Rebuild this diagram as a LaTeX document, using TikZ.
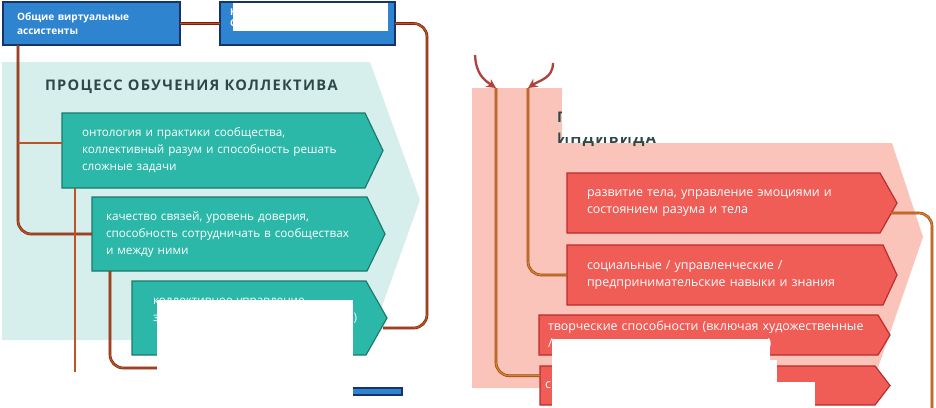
\documentclass[tikz,border=0pt]{standalone}
\usepackage{fontspec}
\setmainfont{Open Sans}
\usetikzlibrary{arrows.meta,backgrounds,calc}

\definecolor{paleteal}{RGB}{214,239,236}
\definecolor{tealfill}{RGB}{44,184,168}
\definecolor{tealedge}{RGB}{26,122,110}
\definecolor{titlec}{RGB}{44,72,72}
\definecolor{bluefill}{RGB}{46,132,206}
\definecolor{blueedge}{RGB}{24,50,110}
\definecolor{pinkbg}{RGB}{250,196,186}
\definecolor{redfill}{RGB}{240,92,86}
\definecolor{rededge}{RGB}{188,44,44}
\definecolor{linkdark}{RGB}{118,32,14}
\definecolor{linkmid}{RGB}{190,82,32}
\definecolor{linkdarkR}{RGB}{150,72,20}
\definecolor{linkmidR}{RGB}{214,128,42}
\definecolor{arrowc}{RGB}{176,66,62}

\begin{document}
\begin{tikzpicture}[
        x=0.03cm, y=-0.03cm,
        every node/.style={inner sep=0pt, outer sep=0pt},
        bluebox/.style={draw=blueedge, line width=1.5pt, fill=bluefill, text=white, align=left, anchor=north west, font=\fontsize{8.6}{12}\selectfont\bfseries},
        tealbox/.style={text=white, align=left, anchor=north west, font=\fontsize{10}{14.5}\selectfont},
        redbox/.style={text=white, align=left, anchor=north west, font=\fontsize{10.6}{14.5}\selectfont},
        tealshape/.style={fill=tealfill, draw=tealedge, line width=1pt},
        redshape/.style={fill=redfill, draw=rededge, line width=1pt},
        heading/.style={text=titlec, align=left, font=\fontsize{12.5}{17.9}\selectfont\bfseries\addfontfeature{LetterSpace=9}},
        linkL/.style={draw=linkdark, double=linkmid, double distance=1.2pt, line width=0.55pt, rounded corners=0.4cm},
        linkR/.style={draw=linkdarkR, double=linkmidR, double distance=1.2pt, line width=0.55pt, rounded corners=0.4cm},
        curvearrow/.style={-{Stealth[length=8pt,width=8pt]}, draw=arrowc, line width=2pt},
        cover/.style={fill=white},
    ]
    \useasboundingbox (0,0) rectangle (936,407);

    % left part: collective
    \node[bluebox, minimum width=5.31cm, minimum height=1.29cm, inner xsep=0.42cm, text width=4.47cm] (va) at (3,2) {Общие виртуальные\\ассистенты};
    \node[bluebox, minimum width=5.25cm, minimum height=1.29cm, inner xsep=0.3cm, text width=4.65cm, font=\fontsize{8}{9.4}\selectfont\bfseries] (vb) at (220,2) {Н\\С\\\mbox{}};
    \node[bluebox, minimum width=7.26cm, minimum height=0.21cm] (vc) at (160,388) {};

    \node[heading, anchor=west] (hc) at (45,87) {ПРОЦЕСС ОБУЧЕНИЯ КОЛЛЕКТИВА};

    \node[tealbox, minimum width=9.09cm, minimum height=2.25cm, inner xsep=0.6cm, text width=7.89cm] (onto) at (62,113)
        {онтология и практики сообщества,\\коллективный разум и способность решать\\сложные задачи};
    \node[tealbox, minimum width=8.25cm, minimum height=2.22cm, inner xsep=0.42cm, text width=7.41cm] (coll) at (92,197)
        {качество связей, уровень доверия,\\способность сотрудничать в сообществах\\и между ними};
    \node[tealbox, minimum width=7.02cm, minimum height=2.22cm, inner xsep=0.63cm, text width=5.76cm] (gov) at (132,281)
        {коллективное управление\\з\rlap{\hspace{5.85cm})}\\\mbox{}};

    % right part: individual
    \node[heading, anchor=north west] (hi) at (557,112) {ПРОЦЕСС ОБУЧЕНИЯ\\ИНДИВИДА};

    \node[redbox, minimum width=9.39cm, minimum height=1.8cm, inner xsep=0.6cm, text width=8.19cm] (body) at (567,173)
        {развитие тела, управление эмоциями и\\состоянием разума и тела};
    \node[redbox, minimum width=9.48cm, minimum height=1.8cm, inner xsep=0.6cm, text width=8.28cm] (soc) at (567,245)
        {социальные / управленческие /\\предпринимательские навыки и знания};
    \node[redbox, minimum width=10.17cm, minimum height=1.2cm, inner xsep=0.27cm, text width=9.63cm] (crea) at (539,315)
        {творческие способности (включая художественные\\/\rlap{\hspace{6.45cm})}};
    \node[redbox, minimum width=10.05cm, minimum height=1.17cm, inner xsep=0.15cm, text width=9.75cm] (last) at (540,366)
        {с};

    \begin{scope}[on background layer]
        \fill[paleteal] (2,62) -- (370,62) -- (420,200) -- (370,340) -- (2,340) -- cycle;
        \fill[pinkbg] (472,88) -- (562,88) -- (562,143) -- (892,143) -- (923,237) -- (871,388) -- (472,388) -- cycle;
        \foreach \n/\d in {onto/18, coll/18, gov/21}
            \filldraw[tealshape] (\n.north west) -- (\n.north east) -- ($(\n.east)+(\d,0)$) -- (\n.south east) -- (\n.south west) -- cycle;
        \foreach \n/\d in {body/17, soc/14, crea/12, last/15}
            \filldraw[redshape] (\n.north west) -- (\n.north east) -- ($(\n.east)+(\d,0)$) -- (\n.south east) -- (\n.south west) -- cycle;
    \end{scope}

    % connectors
    \coordinate (j1) at (18,143);
    \coordinate (f1) at (75,372);
    \coordinate (f2) at (200,368);
    \draw[linkL] (va.east) -- (vb.west);
    \draw[linkL] (va.south west) ++(15,0) |- (coll.west);
    \draw[linkL] (j1) -- (j1 -| onto.west);
    \draw[linkL] (onto.south west) ++(13,0) -- (f1);
    \draw[linkL] (coll.south west) ++(18,0) |- (f2);
    \draw[linkL] (vb.east) -| (427,328) -- ($(gov.east)+(17,10)$);

    \coordinate (s1) at (475,55);
    \coordinate (s2) at (553,63);
    \coordinate (a1) at (496,88);
    \coordinate (a2) at (528,88);
    \coordinate (f3) at (932,412);
    \draw[linkR] (a1) |- ($(last.north west)!0.25!(last.south west)$);
    \draw[linkR] (a2) |- (soc.west);
    \draw[linkR] ($(body.east)+(11,10)$) -| (f3);
    \draw[curvearrow] (s1) .. controls (476,74) and (484,80) .. (a1);
    \draw[curvearrow] (s2) .. controls (553,78) and (540,80) .. (a2);

    % white patches
    \fill[cover] (233,3) rectangle (388,31);
    \fill[cover] (157,300) rectangle (353,410);
    \fill[cover] (562,92) rectangle (940,137);
    \fill[cover] (552,339) rectangle (770,360);
    \fill[cover] (552,360) rectangle (777,382);
    \fill[cover] (552,382) rectangle (815,410);
\end{tikzpicture}
\end{document}
